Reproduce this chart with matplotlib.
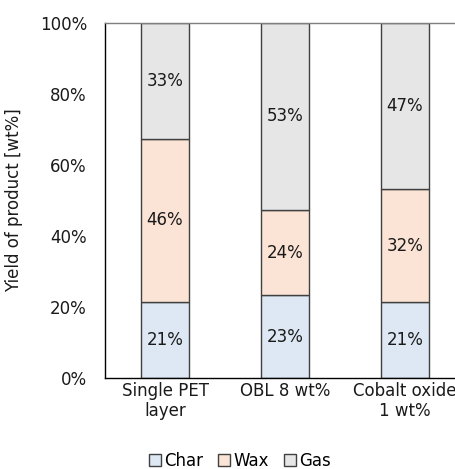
import matplotlib.pyplot as plt
import numpy as np

categories = ['Single PET\nlayer', 'OBL 8 wt%', 'Cobalt oxide\n1 wt%']
char = [21.4, 23.3, 21.3]
wax = [46.0, 24.1, 31.9]
gas = [32.6, 52.6, 46.8]

series = [('Char', char, '#dde8f4'), ('Wax', wax, '#fbe4d5'), ('Gas', gas, '#e6e6e6')]

plt.rcParams['font.family'] = 'DejaVu Sans'
plt.rcParams['font.size'] = 12

fig = plt.figure(figsize=(4.55, 4.69), dpi=100)
ax = fig.add_axes([105 / 455, 1 - 378 / 469, 360 / 455, 355 / 469])

x = np.arange(len(categories))
bottom = np.zeros(len(categories))
handles = []
for name, vals, color in series:
    vals = np.array(vals)
    bars = ax.bar(x, vals, 0.405, bottom=bottom, color=color,
                  edgecolor='#404040', linewidth=1.0, label=name, zorder=2)
    handles.append(bars)
    for xi, b, v in zip(x, bottom, vals):
        ax.text(xi, b + v / 2, '%d%%' % round(v), ha='center', va='center',
                color='#1a1a1a', zorder=3)
    bottom += vals

ax.set_xlim(-0.5, 2.5)
ax.set_ylim(0, 100)
ax.set_yticks(range(0, 101, 20))
ax.set_yticklabels(['%d%%' % v for v in range(0, 101, 20)])
ax.set_xticks(x)
ax.set_xticklabels(categories, linespacing=1.15)
ax.tick_params(axis='y', length=0, pad=13, colors='#1a1a1a')
ax.tick_params(axis='x', length=0, pad=3, colors='#1a1a1a')
ax.set_ylabel('Yield of product [wt%]', labelpad=12, color='#1a1a1a')

ax.spines['right'].set_visible(False)
ax.spines['top'].set_color('#7f7f7f')
ax.spines['left'].set_color('#000000')
ax.spines['bottom'].set_color('#000000')
for s in ax.spines.values():
    s.set_linewidth(1.0)

fig.legend(handles=handles, loc='center', bbox_to_anchor=(240 / 455, 1 - 461 / 469),
           ncol=3, frameon=False, handlelength=0.7, handleheight=0.7,
           handletextpad=0.2, columnspacing=0.9, fontsize=12)

fig.savefig('out.png', dpi=100)
